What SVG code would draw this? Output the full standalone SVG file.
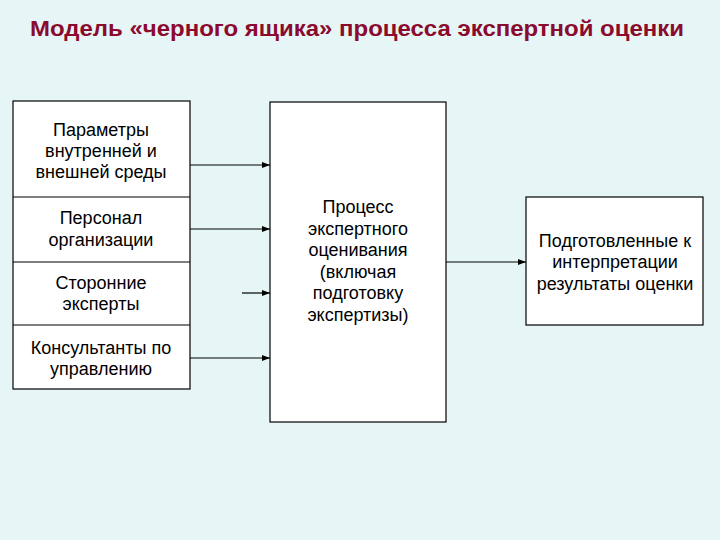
<svg xmlns="http://www.w3.org/2000/svg" width="720" height="540" viewBox="0 0 720 540">
<defs>
<marker id="ah" markerWidth="8" markerHeight="6" refX="8" refY="3" orient="auto" markerUnits="userSpaceOnUse">
<path d="M0,0 L8,3 L0,6 Z" fill="#000"/>
</marker>
</defs>
<style>
.bx{fill:#fff;stroke:#000;stroke-width:1.2}
.t{font-family:"Liberation Sans",Arial,sans-serif;font-size:18px;fill:#000;text-anchor:middle}
.ttl{font-family:"Liberation Sans",Arial,sans-serif;font-size:22px;font-weight:bold;fill:#8b0a2e;text-anchor:middle}
.c{stroke:#000;stroke-width:1.2;fill:none;marker-end:url(#ah)}
</style>
<rect width="720" height="540" fill="#e6f6f6"/>
<text class="ttl" x="357" y="36" textLength="654" lengthAdjust="spacingAndGlyphs">Модель «черного ящика» процесса экспертной оценки</text>
<g id="inputs">
<rect class="bx" x="13" y="101" width="177" height="288"/>
<line x1="13" y1="197" x2="190" y2="197" stroke="#000" stroke-width="1.2"/>
<line x1="13" y1="262" x2="190" y2="262" stroke="#000" stroke-width="1.2"/>
<line x1="13" y1="325" x2="190" y2="325" stroke="#000" stroke-width="1.2"/>
</g>
<g id="n1"><text class="t"><tspan x="101" y="136">Параметры</tspan><tspan x="101" y="157">внутренней и</tspan><tspan x="101" y="178">внешней среды</tspan></text></g>
<g id="n2"><text class="t"><tspan x="101" y="224">Персонал</tspan><tspan x="101" y="246">организации</tspan></text></g>
<g id="n3"><text class="t"><tspan x="101" y="289">Сторонние</tspan><tspan x="101" y="310">эксперты</tspan></text></g>
<g id="n4"><text class="t"><tspan x="101" y="354">Консультанты по</tspan><tspan x="101" y="375">управлению</tspan></text></g>
<g id="process">
<rect class="bx" x="270" y="102" width="176" height="320"/>
<text class="t"><tspan x="358" y="213">Процесс</tspan><tspan x="358" y="235">экспертного</tspan><tspan x="358" y="256">оценивания</tspan><tspan x="358" y="278">(включая</tspan><tspan x="358" y="299">подготовку</tspan><tspan x="358" y="321">экспертизы)</tspan></text>
</g>
<g id="result">
<rect class="bx" x="526" y="197" width="177" height="128"/>
<text class="t"><tspan x="615" y="247">Подготовленные к</tspan><tspan x="615" y="268">интерпретации</tspan><tspan x="615" y="290">результаты оценки</tspan></text>
</g>
<g id="connectors">
<line class="c" x1="190" y1="165" x2="270" y2="165"/>
<line class="c" x1="190" y1="229" x2="270" y2="229"/>
<line class="c" x1="242" y1="293" x2="270" y2="293" stroke-width="1.8"/>
<line class="c" x1="190" y1="358" x2="270" y2="358" stroke-width="1.8"/>
<line class="c" x1="446" y1="262" x2="526" y2="262"/>
</g>
</svg>
